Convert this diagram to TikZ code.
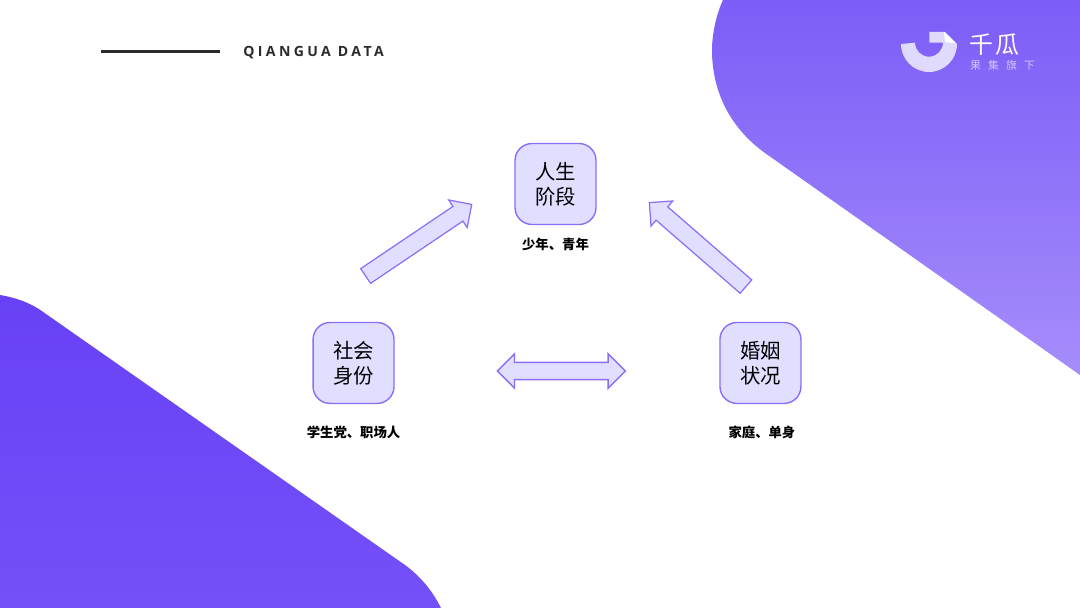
\documentclass[tikz,border=0pt]{standalone}
\usepackage{fontspec}
\usepackage{tikz}
\usetikzlibrary{positioning, shapes.arrows}
\setmainfont{Noto Sans CJK SC}
\newfontfamily\headfont[LetterSpace=24]{Open Sans}
\definecolor{boxfill}{HTML}{E0DFFF}
\definecolor{boxline}{HTML}{8B6FF8}
\definecolor{ringcol}{HTML}{E0DAFD}
\definecolor{subcol}{HTML}{CFC6FB}
\definecolor{inkcol}{HTML}{2B2B2B}
\definecolor{blobtop}{HTML}{7C5DF7}
\definecolor{blobend}{HTML}{A68DFB}
\definecolor{lowtop}{HTML}{6741F4}
\definecolor{lowend}{HTML}{7450FA}

\tikzset{
  topic/.style={draw=boxline, fill=boxfill, line width=0.8pt, rounded corners=0.34cm,
    minimum size=1.62cm, inner sep=0pt, align=center, font=\fontsize{11.6}{14.2}\selectfont},
  caption/.style={inner sep=0pt, font=\bfseries\fontsize{7.6}{9}\selectfont},
  onearrow/.style={single arrow, draw=boxline, fill=boxfill, line width=0.7pt, inner sep=0.165cm,
    outer sep=0pt, minimum width=0pt, minimum height=2.56cm, single arrow head extend=0.155cm},
  twoarrow/.style={double arrow, draw=boxline, fill=boxfill, line width=0.8pt, inner sep=0.16cm,
    outer sep=0pt, minimum width=0pt, minimum height=2.56cm, double arrow head extend=0.17cm},
}

\begin{document}
\begin{tikzpicture}[x=0.02cm, y=-0.02cm, on grid]
  \useasboundingbox (0,0) rectangle (1080,608);

  % background
  \shade[top color=blobtop, bottom color=blobend]
    (723,0) .. controls (716,15) and (712,35) .. (712,50)
    .. controls (712,95) and (733,130) .. (765,153)
    -- (1080,375) -- (1080,0) -- cycle;
  \shade[top color=lowtop, bottom color=lowend]
    (0,295) .. controls (18,298) and (33,304) .. (46,314)
    -- (405,565) .. controls (420,576) and (432,590) .. (441,608)
    -- (0,608) -- cycle;

  % header
  \coordinate (ruleL) at (101,51.5);
  \coordinate (ruleR) at (220,51.5);
  \draw[inkcol, line width=1.4pt] (ruleL) -- (ruleR);
  \node[anchor=west, inner sep=0pt, text=inkcol, font=\headfont\bfseries\fontsize{8}{10}\selectfont] (brand) at (243,53) {QIANGUA DATA};

  % logo
  \fill[ringcol] (901,44) arc[start angle=180, end angle=360, radius=0.56cm]
    -- (945,32) -- (929.3,32) -- (929.3,42.7) -- (943,42.7)
    arc[start angle=0, end angle=-180, radius=0.28cm] -- cycle;
  \fill[white] (944,32) -- (956.5,43.5) -- (945,42) -- cycle;
  \node[text=white, inner sep=0pt, font=\fontsize{13.6}{15}\selectfont] (logoname) at (994.5,45) {千\hspace{1.2pt}瓜};
  \node[text=subcol, inner sep=0pt, font=\fontsize{6.2}{8}\selectfont] (logosub) at (1002.5,65) {果\hspace{4pt}集\hspace{4pt}旗\hspace{4pt}下};

  % topics
  \node[topic] (stage) at (555.5,184) {人生\\阶段};
  \node[topic, below left=3.58cm and 4.04cm of stage] (social) {社会\\身份};
  \node[topic, right=8.14cm of social] (marriage) {婚姻\\状况};

  \node[caption, below=1.2cm of stage] (stagetxt) {少年、青年};
  \node[caption, below=1.38cm of social] (socialtxt) {学生党、职场人};
  \node[caption, below=1.38cm of marriage, xshift=0.03cm] (marriagetxt) {家庭、单身};

  % block arrows
  \node[onearrow, rotate=34] (socialup) at (415,242.7) {};
  \node[onearrow, rotate=139] (marriageup) at (701,247.5) {};
  \node[twoarrow] (between) at (561.3,371) {};
\end{tikzpicture}
\end{document}
